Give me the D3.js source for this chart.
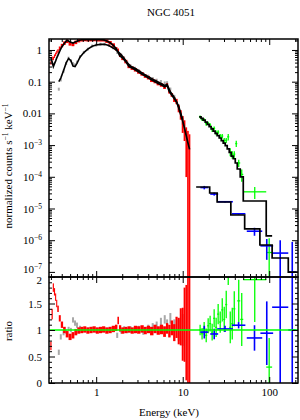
<!DOCTYPE html>
<html>
<head>
<meta charset="utf-8">
<script src="https://d3js.org/d3.v7.min.js"></script>
<style>
body { margin: 0; background: #fff; }
svg { display: block; font-family: 'Liberation Serif', 'Times New Roman', serif; }
</style>
</head>
<body>
<svg width="300" height="420"></svg>
<script>
// ---- data ----
// EPIC pn (red): bin centre keV, folded model, data/model ratio, ratio error
var pnE = [0.30,0.31,0.32,0.33,0.34,0.35,0.36,0.38,0.40,0.43,0.46,0.50,0.54,0.58,0.63,0.68,0.74,0.80,0.87,0.95,1.03,1.12,1.22,1.33,1.45,1.58,1.72,1.80,1.87,2.03,2.2,2.4,2.6,2.85,3.1,3.4,3.7,4.0,4.4,4.8,5.2,5.7,6.2,6.6,7.0,7.5,8.0,8.5,9.0,9.5,10.0,10.5,11.0,11.5,12.0];
var pnModel = [0.56,0.42,0.30,0.37,0.45,0.56,0.66,0.93,1.25,1.64,2.04,1.79,1.66,1.81,1.99,2.10,2.12,2.12,2.12,2.12,2.12,2.10,2.08,1.92,1.69,1.40,1.05,0.83,0.66,0.55,0.43,0.30,0.27,0.234,0.202,0.172,0.151,0.132,0.113,0.099,0.088,0.078,0.069,0.076,0.049,0.037,0.029,0.023,0.0148,0.0089,0.00576,0.00336,0.00196,0.00117,0.00073];
var pnRatio = [0.70,1.30,1.80,1.72,1.62,1.50,1.40,1.22,1.10,1.00,0.92,0.87,0.90,0.96,0.99,1.00,1.01,0.99,1.00,1.01,0.99,1.00,1.01,0.99,1.00,1.02,1.04,1.18,1.03,0.99,1.00,1.01,0.99,1.01,1.00,1.02,0.99,1.01,0.98,1.02,0.99,1.01,0.97,1.03,0.98,1.04,0.95,1.05,0.98,1.06,0.92,1.10,0.95,1.00,1.00];
var pnErr = [0.08,0.10,0.08,0.07,0.07,0.07,0.06,0.06,0.06,0.06,0.06,0.06,0.06,0.06,0.06,0.06,0.06,0.06,0.06,0.06,0.06,0.06,0.06,0.06,0.06,0.06,0.06,0.07,0.06,0.06,0.06,0.06,0.06,0.07,0.07,0.07,0.07,0.07,0.08,0.08,0.08,0.09,0.10,0.10,0.12,0.14,0.16,0.20,0.25,0.35,0.50,0.70,0.90,1.40,2.00];

// second soft detector (grey)
var grayE = [0.37,0.39,0.42,0.45,0.48,0.51,0.54,0.57,0.60,0.65,0.72,0.80,0.90,1.0,1.12,1.25,1.40,1.57,1.75,1.95,2.1,2.3,2.5,2.8,3.1,3.5,4.0,4.5,5.0,5.6,6.2,6.6,7.2,8.0,9.0,10.0];
var grayModel = [0.10,0.13,0.225,0.39,0.54,0.46,0.31,0.30,0.38,0.59,0.83,1.06,1.31,1.44,1.50,1.52,1.39,1.16,0.93,0.70,0.55,0.39,0.31,0.265,0.222,0.18,0.145,0.12,0.103,0.088,0.076,0.083,0.048,0.032,0.0163,0.0063];
var grayRatio = [0.58,0.87,0.95,0.97,1.02,1.00,1.19,1.13,1.09,1.04,1.01,1.00,1.02,0.99,1.01,1.00,1.00,1.01,0.90,0.98,1.02,0.99,1.01,1.00,1.02,0.98,1.03,1.05,1.08,1.15,1.20,1.12,1.22,1.08,1.00,1.00];
var grayErr = [0.05,0.05,0.05,0.04,0.04,0.04,0.05,0.05,0.05,0.04,0.04,0.04,0.04,0.04,0.04,0.04,0.04,0.05,0.05,0.05,0.05,0.05,0.06,0.06,0.06,0.07,0.07,0.08,0.08,0.08,0.08,0.08,0.10,0.12,0.20,0.30];

// hard X-ray detector (green): bin edges keV, model per bin, ratio, error
var greenEdges = [15.5,16.3,17.2,18.2,19.2,20.2,21.3,22.5,23.7,25.0,26.4,27.9,29.4,31.0,32.7,34.5,36.4,38.4,40.5,42.7,46.2,50.1,92.3,108];
var greenModel = [7.8e-3,6.95e-3,6.1e-3,5.3e-3,4.5e-3,3.85e-3,3.24e-3,2.76e-3,2.34e-3,1.98e-3,1.67e-3,1.39e-3,1.16e-3,9.6e-4,7.6e-4,5.9e-4,4.5e-4,3.7e-4,2.72e-4,1.76e-4,9.9e-5,1.72e-5,1.36e-6];
var greenRatio = [1.00,0.93,1.03,0.90,1.08,1.12,0.96,1.22,1.05,1.30,1.15,1.38,1.20,1.48,2.40,1.05,1.12,1.40,4.10,1.55,1.20,1.95,0.30];
var greenErr = [0.10,0.11,0.12,0.13,0.14,0.15,0.16,0.17,0.18,0.19,0.20,0.22,0.24,0.26,0.55,0.30,0.30,0.33,0.90,0.40,0.50,0.80,0.55];

// BAT (blue): model bins and data points
var batModelEdges = [14.3,20.5,25,36,52,78,108,166,230];
var batModel = [4.77e-5,3.08e-5,1.60e-5,6.24e-6,2.26e-6,7.06e-7,2.74e-7,9.9e-8];
var batLo = [16.0,20.8,25.0,37,55,79,108,166];
var batHi = [19.7,25.7,38,53,83,111,166,205];
var batRatio = [0.96,0.925,1.02,1.09,0.85,0.94,1.43,1.0];
var batErr = [0.12,0.10,0.06,0.06,0.24,0.6,2.2,7.9];

var xMajor = [1, 10, 100];
var topMajor = [1, 0.1, 0.01, 1e-3, 1e-4, 1e-5, 1e-6, 1e-7];
var ratioMajor = [0, 0.5, 1, 1.5, 2];

// ---- layout ----
var svg = d3.select("svg");
var L = 49, R = 298, T = 39, M = 277, B = 383;

var x = d3.scaleLog().domain([0.285, 215]).range([L, R]);
var yTop = d3.scaleLog().domain([6.9e-8, 2.22]).range([M, T]);
var yRat = d3.scaleLinear().domain([0, 2]).range([B, M]);

var defs = svg.append("defs");
defs.append("clipPath").attr("id", "cTop").append("rect")
  .attr("x", L).attr("y", T).attr("width", R - L).attr("height", M - T);
defs.append("clipPath").attr("id", "cRat").append("rect")
  .attr("x", L).attr("y", M).attr("width", R - L).attr("height", B - M);

var gTop = svg.append("g").attr("clip-path", "url(#cTop)");
var gRat = svg.append("g").attr("clip-path", "url(#cRat)");

function pos(v) { return Math.max(v, 1e-12); }

// geometric bin edges around centres
function binEdges(E) {
  var lo = [], hi = [];
  E.forEach(function(e, i) {
    var a = i > 0 ? Math.sqrt(E[i - 1] * e) : e * e / Math.sqrt(e * E[1]);
    var b = i < E.length - 1 ? Math.sqrt(e * E[i + 1]) : e * e / Math.sqrt(E[i - 1] * e);
    lo.push(a); hi.push(b);
  });
  return { lo: lo, hi: hi };
}

// dense data as filled boxes (looks like XSPEC's packed crosses)
// maxW limits the box width so sparse sets show as short bars
function boxes(E, model, ratio, err, color, minTop, minRat, maxW) {
  var ed = binEdges(E);
  E.forEach(function(e, i) {
    var x0 = x(ed.lo[i]), x1 = x(ed.hi[i]);
    if (maxW && x1 - x0 > maxW) { var xc = x(e); x0 = xc - maxW / 2; x1 = xc + maxW / 2; }
    var r = ratio[i], s = err[i], m = model[i];
    var a = yTop(pos(m * (r + s))), b = yTop(pos(m * (r - s))), c = yTop(m * r);
    if (b - a < minTop) { a = c - minTop / 2; b = c + minTop / 2; }
    gTop.append("rect").attr("x", x0).attr("y", a).attr("width", Math.max(x1 - x0, 1))
      .attr("height", b - a).attr("fill", color);
    var ra = yRat(r + s), rb = yRat(r - s), rc = yRat(r);
    if (rb - ra < minRat) { ra = rc - minRat / 2; rb = rc + minRat / 2; }
    gRat.append("rect").attr("x", x0).attr("y", ra).attr("width", Math.max(x1 - x0, 1))
      .attr("height", rb - ra).attr("fill", color);
  });
}

function crosses(lo, hi, model, ratio, err, color, w) {
  lo.forEach(function(l, i) {
    var xc = x(Math.sqrt(l * hi[i]));
    var m = model[i], r = ratio[i], s = err[i];
    gTop.append("line").attr("x1", x(l)).attr("x2", x(hi[i]))
      .attr("y1", yTop(m * r)).attr("y2", yTop(m * r)).attr("stroke", color).attr("stroke-width", w);
    gTop.append("line").attr("x1", xc).attr("x2", xc)
      .attr("y1", yTop(pos(m * (r + s)))).attr("y2", yTop(pos(m * (r - s))))
      .attr("stroke", color).attr("stroke-width", w);
    gRat.append("line").attr("x1", x(l)).attr("x2", x(hi[i]))
      .attr("y1", yRat(r)).attr("y2", yRat(r)).attr("stroke", color).attr("stroke-width", w);
    gRat.append("line").attr("x1", xc).attr("x2", xc)
      .attr("y1", yRat(r + s)).attr("y2", yRat(r - s)).attr("stroke", color).attr("stroke-width", w);
  });
}

boxes(grayE, grayModel, grayRatio, grayErr, "#a8a8a8", 3, 2.5, 2);
boxes(pnE, pnModel, pnRatio, pnErr, "#ff0000", 3.5, 2.5, 0);

crosses(greenEdges.slice(0, -1), greenEdges.slice(1), greenModel, greenRatio, greenErr, "#00ff00", 1.3);
crosses(batLo, batHi, batModel, batRatio, batErr, "#0000ff", 1.6);

// models
var smooth = d3.line().x(function(d) { return x(d[0]); }).y(function(d) { return yTop(d[1]); });
function steps(edges, vals) {
  var pts = [];
  vals.forEach(function(v, i) { pts.push([edges[i], v]); pts.push([edges[i + 1], v]); });
  return pts;
}
gTop.append("path").attr("d", smooth(d3.zip(grayE, grayModel)))
  .attr("fill", "none").attr("stroke", "#000").attr("stroke-width", 1.6);
gTop.append("path").attr("d", smooth(d3.zip(pnE, pnModel)))
  .attr("fill", "none").attr("stroke", "#000").attr("stroke-width", 1.7);
gTop.append("path").attr("d", smooth(steps(greenEdges, greenModel)))
  .attr("fill", "none").attr("stroke", "#000").attr("stroke-width", 1.7);
gTop.append("path").attr("d", smooth(steps(batModelEdges, batModel)))
  .attr("fill", "none").attr("stroke", "#000").attr("stroke-width", 1.7);

gRat.append("line").attr("x1", L).attr("x2", R)
  .attr("y1", yRat(1)).attr("y2", yRat(1)).attr("stroke", "#00ff00").attr("stroke-width", 1.5);

// ---- axes ----
var xMinor = [];
[0.1, 1, 10, 100].forEach(function(d) {
  for (var k = 2; k <= 9; k++) { var v = d * k; if (v > 0.285 && v < 215) xMinor.push(v); }
});
var topMinor = [];
topMajor.forEach(function(d) {
  for (var k = 2; k <= 9; k++) { var v = d * k; if (v < 2.22) topMinor.push(v); }
});
var ratMinor = d3.range(0, 2.01, 0.1).filter(function(v) { return Math.abs(v * 2 - Math.round(v * 2)) > 0.01; });

function clean(g) {
  g.select(".domain").remove();
  g.attr("font-size", 11).attr("font-family", null);
  g.selectAll("line").attr("stroke-width", 1);
}

function xTicks(yPos, axisFn, labels) {
  svg.append("g").attr("transform", "translate(0," + yPos + ")")
    .call(axisFn(x).tickValues(xMajor).tickSize(-6).tickPadding(5)
      .tickFormat(labels ? function(d) { return String(d); } : ""))
    .call(clean);
  svg.append("g").attr("transform", "translate(0," + yPos + ")")
    .call(axisFn(x).tickValues(xMinor).tickSize(-3).tickFormat("")).call(clean);
}
xTicks(T, d3.axisTop, false);
xTicks(M, d3.axisBottom, false);
xTicks(M, d3.axisTop, false);
xTicks(B, d3.axisBottom, true);

var gl = svg.append("g").attr("transform", "translate(" + L + ",0)")
  .call(d3.axisLeft(yTop).tickValues(topMajor).tickSize(-6).tickPadding(7)
    .tickFormat(function(d) { return d >= 0.005 ? String(d) : ""; }))
  .call(clean);
gl.selectAll(".tick text").each(function(d) {
  if (d < 0.005) {
    var t = d3.select(this);
    t.append("tspan").text("10");
    t.append("tspan").attr("dy", -4).attr("font-size", 7.5).text("\u2212" + Math.abs(Math.round(Math.log10(d))));
    // lowest label shares its corner with the ratio "2": lift it a little
    if (d < 5e-7) t.attr("y", -3);
  }
});
svg.append("g").attr("transform", "translate(" + L + ",0)")
  .call(d3.axisLeft(yTop).tickValues(topMinor).tickSize(-3).tickFormat("")).call(clean);
svg.append("g").attr("transform", "translate(" + R + ",0)")
  .call(d3.axisRight(yTop).tickValues(topMajor).tickSize(-6).tickFormat("")).call(clean);
svg.append("g").attr("transform", "translate(" + R + ",0)")
  .call(d3.axisRight(yTop).tickValues(topMinor).tickSize(-3).tickFormat("")).call(clean);

var gr = svg.append("g").attr("transform", "translate(" + L + ",0)")
  .call(d3.axisLeft(yRat).tickValues(ratioMajor).tickSize(-6).tickPadding(7)
    .tickFormat(function(d) { return String(d); }))
  .call(clean);
gr.selectAll(".tick text").filter(function(d) { return d === 2; }).attr("y", 3);
svg.append("g").attr("transform", "translate(" + L + ",0)")
  .call(d3.axisLeft(yRat).tickValues(ratMinor).tickSize(-3).tickFormat("")).call(clean);
svg.append("g").attr("transform", "translate(" + R + ",0)")
  .call(d3.axisRight(yRat).tickValues(ratioMajor).tickSize(-6).tickFormat("")).call(clean);
svg.append("g").attr("transform", "translate(" + R + ",0)")
  .call(d3.axisRight(yRat).tickValues(ratMinor).tickSize(-3).tickFormat("")).call(clean);

// frames
svg.append("rect").attr("x", L).attr("y", T).attr("width", R - L).attr("height", M - T)
  .attr("fill", "none").attr("stroke", "#000").attr("stroke-width", 1.5);
svg.append("rect").attr("x", L).attr("y", M).attr("width", R - L).attr("height", B - M)
  .attr("fill", "none").attr("stroke", "#000").attr("stroke-width", 1.5);

// ---- text ----
svg.append("text").attr("x", 171).attr("y", 16).attr("text-anchor", "middle")
  .attr("font-size", 11).text("NGC 4051");

var yl = svg.append("text").attr("transform", "translate(12,166) rotate(-90)")
  .attr("text-anchor", "middle").attr("font-size", 11);
yl.append("tspan").text("normalized counts s");
yl.append("tspan").attr("dy", -4).attr("font-size", 7.5).text("\u22121");
yl.append("tspan").attr("dy", 4).text(" keV");
yl.append("tspan").attr("dy", -4).attr("font-size", 7.5).text("\u22121");

svg.append("text").attr("transform", "translate(12,331) rotate(-90)")
  .attr("text-anchor", "middle").attr("font-size", 11).text("ratio");

svg.append("text").attr("x", 169).attr("y", 416).attr("text-anchor", "middle")
  .attr("font-size", 11).text("Energy (keV)");
</script>
</body>
</html>
